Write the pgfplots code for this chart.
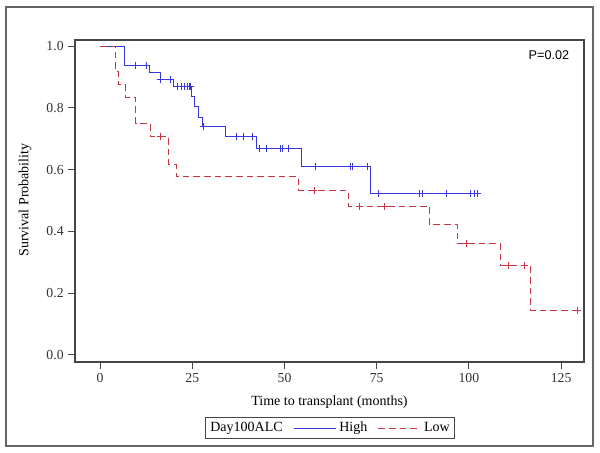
\documentclass[border=0pt]{standalone}
\usepackage{fontspec}
\setmainfont{Liberation Serif}
\newfontfamily\arialfont{Liberation Sans}
\usepackage{pgfplots}
\pgfplotsset{compat=1.18}
\definecolor{kmblue}{RGB}{55,55,225}
\definecolor{kmred}{RGB}{200,55,65}
\definecolor{axgray}{RGB}{70,70,70}
\begin{document}
\begin{tikzpicture}[x=1pt,y=1pt]
\useasboundingbox (-56.25,-68.25) rectangle (393.75,271.5);
\draw[gray!80!black, line width=0.9pt] (-51.75,-63) rectangle (388.5,266.25);
\begin{axis}[
  at={(0,0)}, anchor=south west, scale only axis,
  width=381.75pt, height=241.5pt,
  xmin=-6.8, xmax=131.2, ymin=-0.023, ymax=1.02,
  xtick={0,25,50,75,100,125},
  ytick={0,0.2,0.4,0.6,0.8,1.0},
  yticklabel style={/pgf/number format/fixed, /pgf/number format/precision=1, /pgf/number format/fixed zerofill},
  /pgf/number format/assume math mode=true,
  tick align=outside, tick pos=left, major tick length=5pt,
  axis line style={axgray, line width=0.8pt},
  tick style={axgray, line width=0.8pt},
  tick label style={font=\fontsize{10.3}{12}\selectfont, text=black!80},
  xlabel={Time to transplant (months)},
  ylabel={Survival Probability},
  label style={font=\fontsize{10.5}{12}\selectfont},
  xlabel style={at={(axis description cs:0.5,-0.124)}, anchor=center},
  ylabel style={at={(axis description cs:-0.098,0.503)}, anchor=center, rotate=0},
  legend image code/.code={\draw[#1, line width=0.5pt] (0pt,0pt) -- (32pt,0pt);},
  legend style={at={(axis description cs:0.501,-0.205)}, anchor=center,
    legend columns=-1, draw=axgray, line width=0.6pt,
    font=\fontsize{10.5}{12}\selectfont, inner sep=1.5pt,
    /tikz/every even column/.append style={column sep=6pt}},
]
\addlegendimage{empty legend}
\addlegendentry{Day100ALC}
\addplot[const plot, kmblue, line width=0.75pt] coordinates {
(0,1) (6.5,0.936) (13.5,0.915) (16.3,0.892) (19.8,0.868) (24.9,0.836) (25.7,0.803)
(26.8,0.769) (27.7,0.739) (34.1,0.707) (42.3,0.668) (54.7,0.609) (73.2,0.522) (102.2,0.522)};
\addlegendentry{High}
\addplot[const plot, kmred, line width=0.75pt, dash pattern=on 5pt off 3pt] coordinates {
(0,1) (4.3,0.917) (5.1,0.875) (7.0,0.833) (9.7,0.75) (13.6,0.708) (18.5,0.618) (20.6,0.577)
(53.7,0.532) (67.3,0.481) (89.3,0.421) (96.9,0.361) (108.6,0.289) (116.7,0.144) (129.4,0.144)};
\addlegendentry{Low}
\addplot[forget plot, only marks, mark=+, mark size=2.6pt, kmblue, mark options={line width=0.7pt}] coordinates {
(9.5,0.936) (12.5,0.936) (16.5,0.892) (19.2,0.892) (20.9,0.868) (22,0.868) (23,0.868)
(23.6,0.868) (24.1,0.868) (24.6,0.868) (27.9,0.739) (37.1,0.707) (39,0.707) (41.2,0.707)
(43.2,0.668) (45,0.668) (48.8,0.668) (49.4,0.668) (51,0.668) (58.5,0.609) (67.8,0.609)
(68.4,0.609) (72.4,0.609) (75.6,0.522) (86.7,0.522) (87.5,0.522) (94,0.522) (100.3,0.522)
(101.4,0.522) (102.2,0.522)};
\addplot[forget plot, only marks, mark=+, mark size=2.6pt, kmred, mark options={line width=0.7pt}] coordinates {
(16.3,0.708) (58,0.532) (70.3,0.481) (77.2,0.481) (99.4,0.361) (110.7,0.289) (115,0.289) (129.4,0.144)};
\node[font=\arialfont\fontsize{9.5}{11}\selectfont, anchor=center] at (axis cs:121.7,0.971) {P=0.02};
\end{axis}
\end{tikzpicture}
\end{document}
